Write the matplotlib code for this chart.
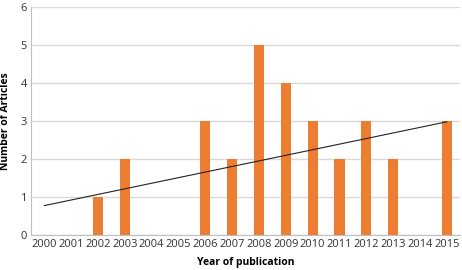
import matplotlib
matplotlib.use("Agg")
import matplotlib.pyplot as plt
import numpy as np

years = [str(y) for y in range(2000, 2016)]
articles = [0, 0, 1, 2, 0, 0, 3, 2, 5, 4, 3, 2, 3, 2, 0, 3]

plt.rcParams['font.family'] = ['Open Sans', 'DejaVu Sans']

fig = plt.figure(figsize=(4.62, 2.70), dpi=100)
ax = fig.add_axes([0.067, 0.130, 0.929, 0.844])

x = np.arange(len(years))
ax.bar(x, articles, width=0.38, color='#ED7D31', zorder=3)

# linear trend line
coef = np.polyfit(x, articles, 1)
ax.plot(x, np.polyval(coef, x), color='#222222', linewidth=0.8, zorder=4)

ax.set_xlim(-0.5, len(years) - 0.5)
ax.set_ylim(0, 6)
ax.set_yticks(range(0, 7))
ax.set_xticks(x)
ax.set_xticklabels(years)
ax.tick_params(axis='both', labelsize=8, length=0, colors='#333333', pad=3)
ax.grid(axis='y', color='#d9d9d9', linewidth=1, zorder=0)
for s in ['top', 'right']:
    ax.spines[s].set_visible(False)
for s in ['left', 'bottom']:
    ax.spines[s].set_color('#bfbfbf')

ax.set_xlabel('Year of publication', fontsize=7.5, fontweight='bold', labelpad=5)
ax.set_ylabel('Number of Articles', fontsize=7.5, fontweight='bold', labelpad=7)

fig.savefig('out.png', dpi=100)
